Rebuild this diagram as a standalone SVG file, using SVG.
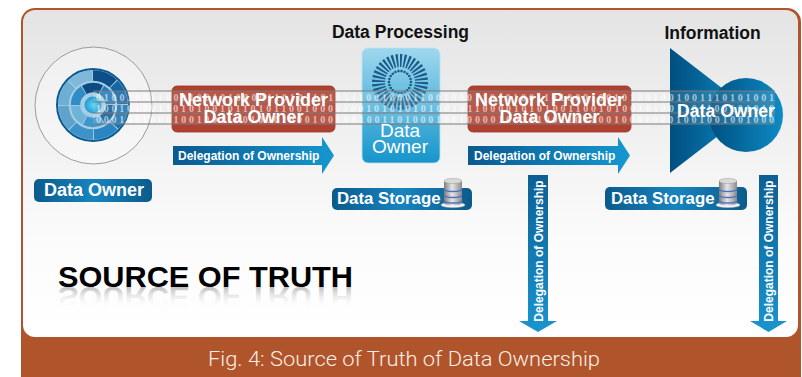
<svg xmlns="http://www.w3.org/2000/svg" width="802" height="377" viewBox="0 0 802 377">
  <defs>
    <linearGradient id="panelFill" x1="0" y1="0" x2="0" y2="1">
      <stop offset="0" stop-color="#e4e4e4"/>
      <stop offset="0.7" stop-color="#fbfbfb"/>
      <stop offset="1" stop-color="#ffffff"/>
    </linearGradient>
    <linearGradient id="labelFill" x1="0" y1="0" x2="1" y2="0">
      <stop offset="0" stop-color="#0b5b8b"/>
      <stop offset="0.5" stop-color="#1784bf"/>
      <stop offset="1" stop-color="#0b5b8b"/>
    </linearGradient>
    <linearGradient id="arrowH" x1="0" y1="0" x2="1" y2="0">
      <stop offset="0" stop-color="#0a5a90"/>
      <stop offset="1" stop-color="#1597d0"/>
    </linearGradient>
    <linearGradient id="arrowV" x1="0" y1="0" x2="0" y2="1">
      <stop offset="0" stop-color="#0c5f95"/>
      <stop offset="1" stop-color="#1a94ce"/>
    </linearGradient>
    <linearGradient id="procFill" x1="0" y1="0" x2="0" y2="1">
      <stop offset="0" stop-color="#9fd8ee"/>
      <stop offset="1" stop-color="#1695cb"/>
    </linearGradient>
    <linearGradient id="infoFill" x1="0" y1="0" x2="1" y2="0">
      <stop offset="0" stop-color="#004f7f"/>
      <stop offset="1" stop-color="#0d8bc6"/>
    </linearGradient>
    <linearGradient id="dbBody" x1="0" y1="0" x2="1" y2="0">
      <stop offset="0" stop-color="#7d7d7d"/>
      <stop offset="0.45" stop-color="#e6e6e6"/>
      <stop offset="1" stop-color="#8a8a8a"/>
    </linearGradient>
    <radialGradient id="coreFill" cx="0.5" cy="0.5" r="0.5">
      <stop offset="0" stop-color="#5fd0f2"/>
      <stop offset="1" stop-color="#1f9bd0"/>
    </radialGradient>
    <linearGradient id="reflectFill" gradientUnits="userSpaceOnUse" x1="0" y1="287" x2="0" y2="266">
      <stop offset="0" stop-color="#8a8a8a" stop-opacity="0.55"/>
      <stop offset="1" stop-color="#ffffff" stop-opacity="0"/>
    </linearGradient>
    <!-- database cylinder icon -->
    <g id="dbIcon">
      <ellipse cx="0" cy="26" rx="12" ry="2.6" fill="#f4f4f4" stroke="#bdbdbd" stroke-width="0.6"/>
      <rect x="-9" y="2" width="18" height="22" fill="url(#dbBody)"/>
      <ellipse cx="0" cy="24" rx="9" ry="2.5" fill="url(#dbBody)"/>
      <path d="M-9 10 A9 2.5 0 0 0 9 10 M-9 16 A9 2.5 0 0 0 9 16 M-9 21.5 A9 2.5 0 0 0 9 21.5" fill="none" stroke="#4c6fc4" stroke-width="1.3"/>
      <ellipse cx="0" cy="2" rx="9" ry="2.6" fill="#d9d9d9" stroke="#9a9a9a" stroke-width="0.5"/>
    </g>
  </defs>
  <style>
    .sans { font-family: "Liberation Sans", Arial, sans-serif; }
    .bold { font-weight: bold; }
    .white { fill: #ffffff; }
    .head { font-size: 17.5px; fill: #111111; }
    .bin { font-family: "Liberation Serif", serif; font-weight: bold; font-size: 10px; fill: #ffffff; fill-opacity: 0.6; }
    .band { fill: #ffffff; fill-opacity: 0.12; }
    .wire { stroke: #7a7a7a; stroke-width: 1; }
    .dlg { font-size: 12px; }
  </style>

  <!-- frame and panel -->
  <g id="frame">
    <rect x="21" y="8" width="780" height="385" rx="14" fill="#b0552b"/>
    <rect x="23" y="10" width="775" height="327" rx="12" fill="url(#panelFill)"/>
    <text x="208" y="366" font-family="Roboto, 'Liberation Sans', sans-serif" font-weight="300" font-size="20" fill="#fbeee6" textLength="392" lengthAdjust="spacingAndGlyphs">Fig. 4: Source of Truth of Data Ownership</text>
  </g>

  <!-- data owner source disc -->
  <g id="source-owner">
    <circle cx="93.5" cy="105.5" r="58.5" fill="#ffffff" fill-opacity="0.35" stroke="#9c9c9c" stroke-width="1"/>
    <circle cx="93" cy="105" r="36" fill="#a7cde4" stroke="#0b5b91" stroke-width="2"/>
    <g fill="none" stroke-width="10.5">
      <circle cx="93" cy="105" r="29.5" pathLength="8" stroke="#1a72b0" stroke-dasharray="0.96 7.04" stroke-dashoffset="0"/>
      <circle cx="93" cy="105" r="29.5" pathLength="8" stroke="#2a86c2" stroke-dasharray="0.96 7.04" stroke-dashoffset="-1"/>
      <circle cx="93" cy="105" r="29.5" pathLength="8" stroke="#3d92c8" stroke-dasharray="0.96 7.04" stroke-dashoffset="-2"/>
      <circle cx="93" cy="105" r="29.5" pathLength="8" stroke="#5fa2cc" stroke-dasharray="0.96 7.04" stroke-dashoffset="-3"/>
      <circle cx="93" cy="105" r="29.5" pathLength="8" stroke="#6eaed3" stroke-dasharray="0.96 7.04" stroke-dashoffset="-4"/>
      <circle cx="93" cy="105" r="29.5" pathLength="8" stroke="#7fb8d9" stroke-dasharray="0.96 7.04" stroke-dashoffset="-5"/>
      <circle cx="93" cy="105" r="29.5" pathLength="8" stroke="#0d4f86" stroke-dasharray="0.96 7.04" stroke-dashoffset="-6"/>
      <circle cx="93" cy="105" r="29.5" pathLength="8" stroke="#1566a3" stroke-dasharray="0.96 7.04" stroke-dashoffset="-7"/>
    </g>
    <g fill="none" stroke-width="9.5">
      <circle cx="93" cy="105" r="17.5" pathLength="6" stroke="#0f5e98" stroke-dasharray="0.95 5.05" stroke-dashoffset="0"/>
      <circle cx="93" cy="105" r="17.5" pathLength="6" stroke="#3c97cc" stroke-dasharray="0.95 5.05" stroke-dashoffset="-1"/>
      <circle cx="93" cy="105" r="17.5" pathLength="6" stroke="#6fb3d8" stroke-dasharray="0.95 5.05" stroke-dashoffset="-2"/>
      <circle cx="93" cy="105" r="17.5" pathLength="6" stroke="#2f8cc6" stroke-dasharray="0.95 5.05" stroke-dashoffset="-3"/>
      <circle cx="93" cy="105" r="17.5" pathLength="6" stroke="#0c4c84" stroke-dasharray="0.95 5.05" stroke-dashoffset="-4"/>
      <circle cx="93" cy="105" r="17.5" pathLength="6" stroke="#1f7bb9" stroke-dasharray="0.95 5.05" stroke-dashoffset="-5"/>
    </g>
    <circle cx="93" cy="105" r="8.5" fill="url(#coreFill)"/>
  </g>

  <!-- network provider boxes -->
  <g id="provider-1">
    <rect x="172" y="86" width="163" height="46" rx="5" fill="#b0402f" stroke="#9a3526" stroke-width="0.8"/>
  </g>
  <g id="provider-2">
    <rect x="468" y="86" width="163" height="46" rx="5" fill="#b0402f" stroke="#9a3526" stroke-width="0.8"/>
  </g>

  <!-- data processing owner -->
  <g id="processing">
    <text class="sans bold head" x="400.5" y="38" text-anchor="middle">Data Processing</text>
    <rect x="362" y="48" width="78" height="115" rx="6" fill="url(#procFill)" stroke="#b9e2f2" stroke-width="0.8"/>
    <circle cx="400" cy="82" r="21.5" fill="none" stroke="#1b5c8a" stroke-width="13" pathLength="72" stroke-dasharray="1.05 0.95"/>
    <circle cx="400" cy="82" r="11" fill="none" stroke="#1b5c8a" stroke-width="2.6" stroke-linecap="round" pathLength="22" stroke-dasharray="0 1"/>
  </g>

  <!-- information owner -->
  <g id="information">
    <text class="sans bold head" x="712.5" y="39" text-anchor="middle">Information</text>
    <path d="M670 48 L751 110.5 L670 173 Z" fill="url(#infoFill)"/>
    <circle cx="746" cy="115" r="37" fill="url(#infoFill)"/>
  </g>

  <!-- data stream: binary rows and wires -->
  <g id="connectors">
    <rect class="band" x="93" y="91" width="682" height="33"/>
    <text class="bin" x="96" y="100.5" textLength="678" lengthAdjust="spacing">0100100110001001010000110101101011100100011001000110101001101000100101001001001110101001</text>
    <text class="bin" x="96" y="111.5" textLength="678" lengthAdjust="spacing">1001010011010100101101011001000110010101010100101100001010100110010100101001101100101010</text>
    <text class="bin" x="96" y="122.5" textLength="678" lengthAdjust="spacing">0001001000100100110010001000100100100110100010010000100101001100100100010001001001001000</text>
    <line class="wire" x1="93" y1="91" x2="775" y2="91"/>
    <line class="wire" x1="93" y1="102" x2="775" y2="102"/>
    <line class="wire" x1="93" y1="113" x2="775" y2="113"/>
    <line class="wire" x1="93" y1="124" x2="775" y2="124"/>

    <!-- delegation arrows -->
    <g id="delegation-1">
      <polygon points="173,146 322,146 322,137 334,155.5 322,174 322,165 173,165" fill="url(#arrowH)"/>
      <text class="sans bold white dlg" x="178" y="160">Delegation of Ownership</text>
    </g>
    <g id="delegation-2">
      <polygon points="468,146 618,146 618,137 630,155.5 618,174 618,165 468,165" fill="url(#arrowH)"/>
      <text class="sans bold white dlg" x="474" y="160">Delegation of Ownership</text>
    </g>
    <g id="delegation-3">
      <polygon points="528,175 548,175 548,321 557,321 538,332 519,321 528,321" fill="url(#arrowV)"/>
      <text class="sans bold white dlg" x="538" y="255.5" text-anchor="middle" transform="rotate(-90 538 251)">Delegation of Ownership</text>
    </g>
    <g id="delegation-4">
      <polygon points="759,175 778,175 778,321 787,321 768.5,332 750,321 759,321" fill="url(#arrowV)"/>
      <text class="sans bold white dlg" x="768.5" y="255.5" text-anchor="middle" transform="rotate(-90 768.5 251)">Delegation of Ownership</text>
    </g>
  </g>

  <!-- labels drawn over the data stream -->
  <g id="provider-1-text">
    <text class="sans bold white" font-size="18" x="253.5" y="106" text-anchor="middle">Network Provider</text>
    <text class="sans bold white" font-size="18" x="253.5" y="123" text-anchor="middle">Data Owner</text>
  </g>
  <g id="provider-2-text">
    <text class="sans bold white" font-size="18" x="549.5" y="106" text-anchor="middle">Network Provider</text>
    <text class="sans bold white" font-size="18" x="549.5" y="123" text-anchor="middle">Data Owner</text>
  </g>
  <g id="processing-text">
    <text class="sans white" font-size="19" x="400" y="137" text-anchor="middle">Data</text>
    <text class="sans white" font-size="19" x="400" y="153" text-anchor="middle">Owner</text>
  </g>
  <g id="information-text">
    <text class="sans bold white" font-size="17.6" x="726" y="117" text-anchor="middle">Data Owner</text>
  </g>

  <!-- owner label under the disc -->
  <g id="source-label">
    <rect x="34" y="179" width="118" height="23" rx="5" fill="url(#labelFill)"/>
    <text class="sans bold white" font-size="18" x="44" y="196">Data Owner</text>
  </g>

  <!-- storage labels -->
  <g id="storage-1">
    <rect x="332" y="188" width="140" height="22" rx="5" fill="url(#labelFill)"/>
    <text class="sans bold white" font-size="16.8" x="337" y="204">Data Storage</text>
    <use href="#dbIcon" x="453" y="179"/>
  </g>
  <g id="storage-2">
    <rect x="605" y="187" width="142" height="23" rx="5" fill="url(#labelFill)"/>
    <text class="sans bold white" font-size="16.8" x="611" y="204">Data Storage</text>
    <use href="#dbIcon" x="728" y="179"/>
  </g>

  <!-- title with reflection -->
  <g id="title">
    <text class="sans bold" font-size="30" fill="#000000" x="58" y="287" textLength="295" lengthAdjust="spacingAndGlyphs">SOURCE OF TRUTH</text>
    <text class="sans bold" font-size="30" fill="url(#reflectFill)" x="58" y="287" textLength="295" lengthAdjust="spacingAndGlyphs" transform="translate(0 574) scale(1 -1)">SOURCE OF TRUTH</text>
  </g>
</svg>
